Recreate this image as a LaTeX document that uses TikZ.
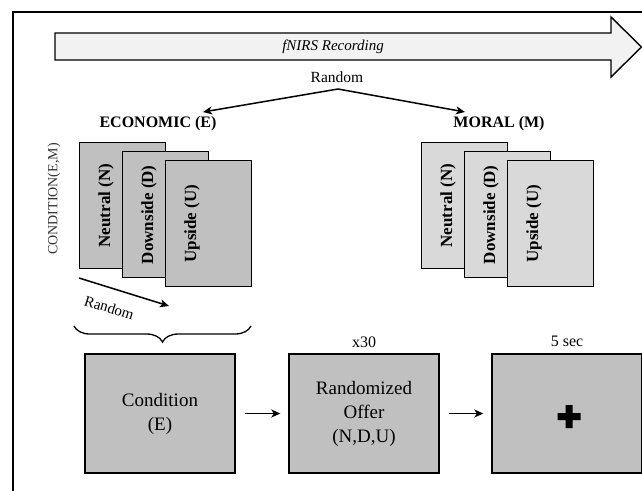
\documentclass[tikz,border=0pt]{standalone}
\usepackage{fontspec}
\setmainfont{Liberation Serif}
\usetikzlibrary{arrows.meta,positioning,decorations.pathreplacing}

\definecolor{boxgray}{HTML}{C0C0C0}
\definecolor{moralgray}{HTML}{D9D9D9}
\definecolor{arrowfill}{HTML}{F2F2F2}

\tikzset{
  card/.style={draw, line width=1.4pt, anchor=north west, minimum width=86pt, minimum height=126pt, inner sep=0pt},
  cardtext/.style={rotate=90, font=\fontsize{17}{20}\selectfont\bfseries},
  stage/.style={draw, line width=1.4pt, fill=boxgray, minimum width=150pt, minimum height=119pt, align=center, inner sep=0pt, font=\fontsize{19}{24}\selectfont},
  conn/.style={-{Stealth[length=9pt,width=8pt,inset=2.5pt]}, line width=1.5pt},
  small/.style={font=\fontsize{16}{19}\selectfont},
  heading/.style={font=\fontsize{16}{19}\selectfont\bfseries},
}

\begin{document}
\begin{tikzpicture}[x=1pt, y=-1pt]
\useasboundingbox (0,0) rectangle (642,490);
\clip (0,0) rectangle (642,490);

% frame
\draw[line width=1.5pt] (13,12) rectangle (700,560);

% recording arrow
\draw[line width=1.4pt, fill=arrowfill] (55,33) -- (611,33) -- (611,17) -- (641.5,47) -- (611,77) -- (611,60) -- (55,60) -- cycle;
\node (rec) at (333,47) {\fontsize{15}{18}\selectfont\itshape fNIRS Recording};

% random choice of block
\node[font=\fontsize{15.5}{18}\selectfont] (rnd) at (337,77) {Random};
\node[heading] (eco) at (158,124) {ECONOMIC (E)};
\node[heading] (mor) at (499,124) {MORAL (M)};
\coordinate (fork) at (338,89);
\coordinate (etip) at (203,112);
\coordinate (mtip) at (465,112);
\draw[conn] (fork) -- (etip);
\draw[conn] (fork) -- (mtip);

% card stacks
\foreach \gx/\gc/\gn in {79/boxgray/e, 421/moralgray/m} {
  \foreach \txt [count=\i] in {Neutral (N), Downside (D), Upside (U)} {
    \node[card, fill=\gc] (\gn\i) at ({\gx+43*(\i-1)}, {142+9*(\i-1)}) {};
    \node[cardtext] at ([xshift=27pt]\gn\i.west) {\txt};
  }
}
\node[rotate=90, font=\fontsize{14}{16}\selectfont, text=black!80] (cond) at (54,199) {CONDITION(E,M)};

% order inside a block
\coordinate (rs) at (79,278);
\coordinate (re) at (169,306);
\draw[conn] (rs) -- node[sloped, below=10pt, pos=0.4, font=\fontsize{15}{18}\selectfont] (rlab) {Random} (re);
\coordinate (bl) at (74,326);
\coordinate (br) at (251,326);
\draw[line width=1.3pt, decorate, decoration={brace, mirror, amplitude=16pt}] (bl) -- (br);

% trial
\node[stage] (b1) at (160,413.5) {Condition\\(E)};
\node[stage] (b2) at (364,413.5) {Randomized\\Offer\\(N,D,U)};
\node[stage] (b3) at (567,413.5) {};
\fill[shift={([xshift=2pt,yshift=-3pt]b3.center)}] (-11.5,-3.5) rectangle (11.5,3.5) (-3.5,-11.5) rectangle (3.5,11.5);
\node[small] (rep) at ([yshift=11pt]b2.north) {x30};
\node[small] (dur) at ([yshift=12pt]b3.north) {5 sec};
\draw[conn] ([xshift=9pt]b1.east) -- ([xshift=-8pt]b2.west);
\draw[conn] ([xshift=9pt]b2.east) -- ([xshift=-8pt]b3.west);

\end{tikzpicture}
\end{document}
